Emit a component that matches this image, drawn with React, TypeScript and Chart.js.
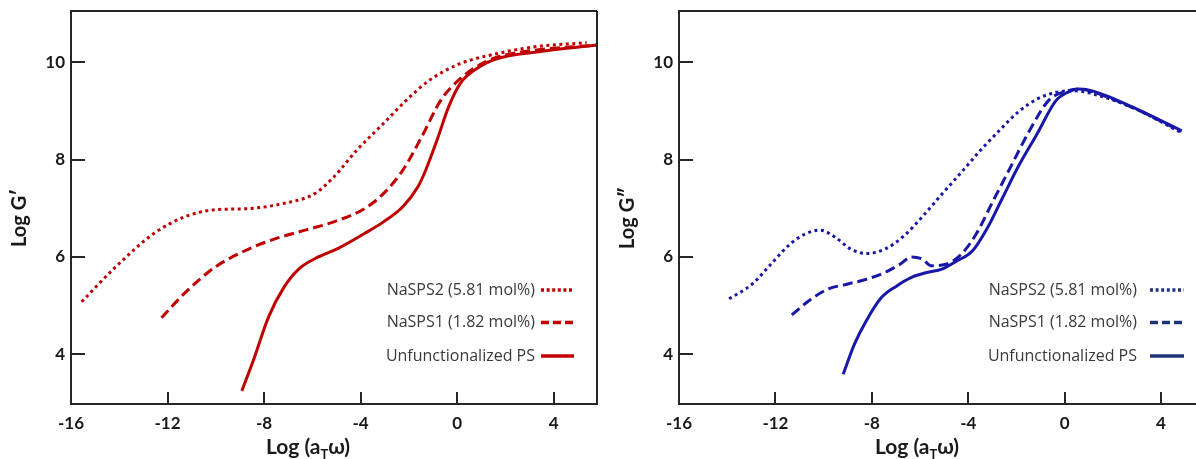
import React, { useEffect, useRef } from 'react';
import { Chart, registerables } from 'chart.js';

Chart.register(...registerables);

// ---------- data ----------
const xTickValues = [-16, -12, -8, -4, 0, 4];
const yTickValues = [4, 6, 8, 10];
const seriesNames = ['NaSPS2 (5.81 mol%)', 'NaSPS1 (1.82 mol%)', 'Unfunctionalized PS'];

// Log G' (storage modulus)
const storageNaSPS2X = [-15.56, -14.16, -12.57, -11.3, -10.03, -8.76, -7.17, -5.9, -5.11, -4.16, -3.05, -2.1, -1.14, 0.13, 1.71, 3.3, 5.37];
const storageNaSPS2Y = [5.08, 5.79, 6.48, 6.82, 6.97, 6.99, 7.1, 7.3, 7.64, 8.19, 8.74, 9.22, 9.63, 9.97, 10.18, 10.32, 10.4];
const storageNaSPS1X = [-12.25, -11.3, -10.03, -8.6, -7.49, -6.22, -5.11, -3.84, -3.05, -2.25, -1.46, -0.67, 0.13, 0.92, 1.71, 3.3, 5.8];
const storageNaSPS1Y = [4.75, 5.25, 5.79, 6.17, 6.38, 6.56, 6.72, 6.99, 7.3, 7.78, 8.47, 9.22, 9.66, 9.94, 10.11, 10.25, 10.35];
const storagePSX = [-8.92, -8.44, -7.81, -7.17, -6.54, -5.75, -4.95, -3.84, -3.05, -2.25, -1.62, -1.3, -0.83, -0.35, 0.13, 0.92, 1.71, 3.3, 5.8];
const storagePSY = [3.25, 3.88, 4.77, 5.38, 5.76, 6.0, 6.17, 6.48, 6.72, 7.03, 7.44, 7.78, 8.4, 9.08, 9.56, 9.9, 10.08, 10.21, 10.35];

// Log G'' (loss modulus)
const lossNaSPS2X = [-13.92, -12.97, -12.19, -11.4, -10.77, -10.14, -9.51, -8.87, -8.24, -7.46, -6.67, -5.88, -5.09, -4.3, -3.51, -2.72, -1.94, -1.15, -0.36, 0.43, 1.22, 2.8, 4.85];
const lossNaSPS2Y = [5.14, 5.44, 5.85, 6.26, 6.47, 6.55, 6.4, 6.16, 6.07, 6.16, 6.43, 6.84, 7.29, 7.73, 8.18, 8.59, 8.97, 9.24, 9.38, 9.41, 9.34, 9.07, 8.55];
const lossNaSPS1X = [-11.32, -10.61, -9.82, -9.03, -8.24, -7.46, -6.83, -6.35, -5.88, -5.56, -4.93, -4.3, -3.67, -3.04, -2.25, -1.46, -0.67, 0.12, 0.59, 1.22, 2.8, 4.85];
const lossNaSPS1Y = [4.81, 5.1, 5.34, 5.44, 5.54, 5.68, 5.85, 6.0, 5.95, 5.82, 5.85, 6.05, 6.47, 7.08, 7.84, 8.59, 9.21, 9.41, 9.45, 9.38, 9.07, 8.58];
const lossPSX = [-9.19, -8.72, -8.24, -7.61, -6.98, -6.35, -5.72, -5.09, -4.46, -3.83, -3.2, -2.57, -1.94, -1.15, -0.36, 0.12, 0.59, 1.22, 2.8, 4.85];
const lossPSY = [3.59, 4.21, 4.68, 5.16, 5.4, 5.58, 5.68, 5.75, 5.92, 6.12, 6.6, 7.22, 7.84, 8.52, 9.21, 9.38, 9.45, 9.4, 9.08, 8.59];

// ---------- styling ----------
const dashes = [[3, 3.5], [10, 5], []];
const legendDashes = [[3, 2.6], [8, 4], []];
const TICK_FONT = 'Lato, "Open Sans", sans-serif';

type Panel = {
  series: { xs: number[]; ys: number[] }[];
  color: string;
  legendColor: string;
  yTitle: string;
  xMax: number;
  yAxisWidth: number;
  padRight: number;
  drawRight: boolean;
  legendTextRight: number;
  legendLine: [number, number];
  xTitleCenter: number;
};

const toPoints = (xs: number[], ys: number[]) => xs.map((x, i) => ({ x, y: ys[i] }));

const framePlugin = {
  id: 'frame',
  afterDraw(chart: any) {
    const p: Panel = chart.options.plugins.frame.panel;
    const { ctx, chartArea } = chart;
    const { left, right, top, bottom } = chartArea;
    const xs = chart.scales.x;
    const ys = chart.scales.y;
    ctx.save();
    ctx.strokeStyle = '#262626';
    ctx.lineWidth = 2;
    ctx.setLineDash([]);
    ctx.beginPath();
    ctx.moveTo(right + (p.drawRight ? 0 : 10), top);
    ctx.lineTo(left, top);
    ctx.lineTo(left, bottom);
    ctx.lineTo(right, bottom);
    if (p.drawRight) ctx.lineTo(right, top);
    ctx.stroke();
    // inward tick marks
    ctx.beginPath();
    xTickValues.forEach((v) => {
      if (v <= xs.min + 0.01) return;
      const px = Math.round(xs.getPixelForValue(v));
      ctx.moveTo(px, bottom);
      ctx.lineTo(px, bottom - 12);
    });
    yTickValues.forEach((v) => {
      const py = Math.round(ys.getPixelForValue(v));
      ctx.moveTo(left, py);
      ctx.lineTo(left + 14, py);
    });
    ctx.stroke();

    // x title with subscript
    ctx.fillStyle = '#1a1a1a';
    ctx.textBaseline = 'alphabetic';
    const big = `bold 21px ${TICK_FONT}`;
    const small = `bold 13px ${TICK_FONT}`;
    const parts = [
      { t: 'Log (a', f: big, dy: 0 },
      { t: 'T', f: small, dy: 5 },
      { t: 'ω)', f: big, dy: 0 },
    ];
    let total = 0;
    parts.forEach((pt) => {
      ctx.font = pt.f;
      total += ctx.measureText(pt.t).width;
    });
    let cx = left + p.xTitleCenter - total / 2;
    const baseY = 454;
    ctx.textAlign = 'left';
    parts.forEach((pt) => {
      ctx.font = pt.f;
      ctx.fillText(pt.t, cx, baseY + pt.dy);
      cx += ctx.measureText(pt.t).width;
    });

    // y title
    ctx.save();
    ctx.translate(left - 51, 218);
    ctx.rotate(-Math.PI / 2);
    ctx.font = `bold 20px ${TICK_FONT}`;
    ctx.textAlign = 'center';
    ctx.textBaseline = 'middle';
    ctx.fillText(p.yTitle, 0, 0);
    ctx.restore();

    // legend
    const rows = [290, 322.5, 356];
    ctx.font = `16px "Open Sans", sans-serif`;
    ctx.textAlign = 'right';
    ctx.textBaseline = 'middle';
    chart.data.datasets.forEach((ds: any, i: number) => {
      ctx.fillStyle = '#3a3a3a';
      ctx.fillText(ds.label, p.legendTextRight, rows[i]);
      ctx.strokeStyle = p.legendColor;
      ctx.lineWidth = 3.5;
      ctx.setLineDash(legendDashes[i]);
      ctx.beginPath();
      ctx.moveTo(p.legendLine[0], rows[i]);
      ctx.lineTo(p.legendLine[1], rows[i]);
      ctx.stroke();
    });
    ctx.restore();
  },
};

function makeConfig(p: Panel): any {
  return {
    type: 'line',
    data: {
      datasets: p.series.map((s, i) => ({
        label: seriesNames[i],
        data: toPoints(s.xs, s.ys),
        borderColor: p.color,
        borderWidth: 3,
        borderDash: dashes[i],
        pointRadius: 0,
        fill: false,
        cubicInterpolationMode: 'monotone',
      })),
    },
    options: {
      responsive: false,
      animation: false,
      devicePixelRatio: 1,
      layout: { padding: { top: 11, right: p.padRight, left: 0, bottom: 0 } },
      plugins: {
        legend: { display: false },
        tooltip: { enabled: false },
        frame: { panel: p },
      },
      scales: {
        x: {
          type: 'linear',
          min: -16,
          max: p.xMax,
          border: { display: false },
          grid: { display: false, drawTicks: false },
          afterBuildTicks: (s: any) => {
            s.ticks = xTickValues.map((value) => ({ value }));
          },
          afterFit: (s: any) => {
            s.height = 55;
            s.paddingLeft = 0;
            s.paddingRight = 0;
          },
          ticks: {
            autoSkip: false,
            maxRotation: 0,
            padding: 9,
            color: '#1a1a1a',
            font: { family: TICK_FONT, size: 17, weight: 'bold' },
            callback: (v: number) => String(v),
          },
        },
        y: {
          type: 'linear',
          min: 2.98,
          max: 11.05,
          border: { display: false },
          grid: { display: false, drawTicks: false },
          afterBuildTicks: (s: any) => {
            s.ticks = yTickValues.map((value) => ({ value }));
          },
          afterFit: (s: any) => {
            s.width = p.yAxisWidth;
            s.paddingTop = 0;
            s.paddingBottom = 0;
          },
          ticks: {
            padding: 6,
            color: '#1a1a1a',
            font: { family: TICK_FONT, size: 17, weight: 'bold' },
            callback: (v: number) => String(v),
          },
        },
      },
    },
    plugins: [framePlugin],
  };
}

const leftPanel: Panel = {
  series: [
    { xs: storageNaSPS2X, ys: storageNaSPS2Y },
    { xs: storageNaSPS1X, ys: storageNaSPS1Y },
    { xs: storagePSX, ys: storagePSY },
  ],
  color: '#c00000',
  legendColor: '#c00000',
  yTitle: 'Log G′',
  xMax: 5.8,
  yAxisWidth: 71,
  padRight: 3,
  drawRight: true,
  legendTextRight: 535,
  legendLine: [541, 574],
  xTitleCenter: 237,
};

const rightPanel: Panel = {
  series: [
    { xs: lossNaSPS2X, ys: lossNaSPS2Y },
    { xs: lossNaSPS1X, ys: lossNaSPS1Y },
    { xs: lossPSX, ys: lossPSY },
  ],
  color: '#1818a8',
  legendColor: '#1f3578',
  yTitle: 'Log G″',
  xMax: 5.45,
  yAxisWidth: 79,
  padRight: 0,
  drawRight: false,
  legendTextRight: 537,
  legendLine: [550, 584],
  xTitleCenter: 238,
};

function ChartCanvas({ panel, left, width }: { panel: Panel; left: number; width: number }) {
  const ref = useRef<HTMLCanvasElement | null>(null);
  useEffect(() => {
    if (!ref.current) return;
    const chart = new Chart(ref.current, makeConfig(panel));
    return () => chart.destroy();
  }, [panel]);
  return (
    <canvas
      ref={ref}
      width={width}
      height={459}
      style={{ position: 'absolute', left, top: 0, width, height: 459 }}
    />
  );
}

export default function App() {
  return (
    <div style={{ position: 'fixed', left: 0, top: 0, width: 1196, height: 459, background: '#fff', overflow: 'hidden' }}>
      <ChartCanvas panel={leftPanel} left={0} width={600} />
      <ChartCanvas panel={rightPanel} left={600} width={596} />
    </div>
  );
}
